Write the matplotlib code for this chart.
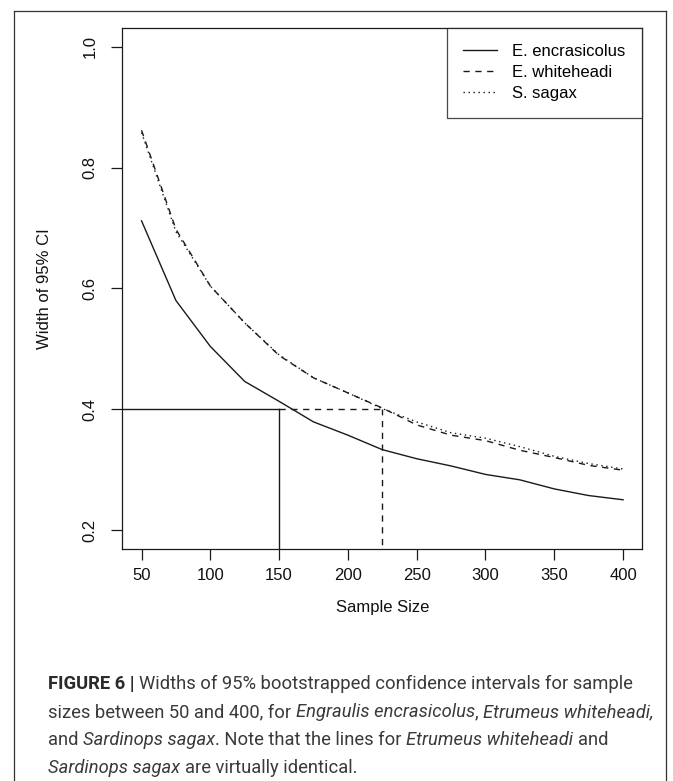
"""Widths of 95% bootstrapped CIs against sample size (Figure 6 recreation)."""

import matplotlib

matplotlib.use("Agg")
import matplotlib.pyplot as plt
from matplotlib.lines import Line2D


sample_size = [50, 75, 100, 125, 150, 175, 200, 225, 250, 275, 300, 325, 350, 375, 400]
width_encrasicolus = [0.712, 0.580, 0.504, 0.446, 0.413, 0.379, 0.357, 0.333,
                      0.318, 0.306, 0.292, 0.283, 0.268, 0.257, 0.250]
width_whiteheadi = [0.862, 0.698, 0.604, 0.543, 0.489, 0.452, 0.427, 0.402,
                    0.374, 0.357, 0.348, 0.332, 0.320, 0.307, 0.299]
width_sagax = [0.858, 0.694, 0.604, 0.543, 0.490, 0.452, 0.427, 0.401,
               0.379, 0.361, 0.352, 0.338, 0.322, 0.310, 0.301]
species = ["E. encrasicolus", "E. whiteheadi", "S. sagax"]
target_width = 0.4
n_encrasicolus = 150
n_whiteheadi = 225
x_ticks = [50, 100, 150, 200, 250, 300, 350, 400]
y_ticks = [0.2, 0.4, 0.6, 0.8, 1.0]
caption_lines = [
    [("FIGURE 6 |", "bold"), (" Widths of 95% bootstrapped confidence intervals for sample", "normal")],
    [("sizes between 50 and 400, for ", "normal"), ("Engraulis encrasicolus", "italic"),
     (", ", "normal"), ("Etrumeus whiteheadi,", "italic")],
    [("and ", "normal"), ("Sardinops sagax", "italic"), (". Note that the lines for ", "normal"),
     ("Etrumeus whiteheadi", "italic"), (" and", "normal")],
    [("Sardinops sagax", "italic"), (" are virtually identical.", "normal")],
]

INK = "#1a1a1a"
DASHED = (0, (4.5, 4))
DOTTED = (0, (1, 2.6))
PLOT_FONT = "Liberation Sans"
CAPTION_FONT = "Roboto"
CAPTION_SIZE = 13.2

plt.rcParams["font.family"] = [PLOT_FONT, "DejaVu Sans"]
plt.rcParams["font.size"] = 12


def draw_caption(fig, lines, x0, y_tops, line_height):
    renderer = fig.canvas.get_renderer()
    probe = fig.text(0, 0, "x x", fontsize=CAPTION_SIZE, family=CAPTION_FONT)
    two = fig.text(0, 0, "xx", fontsize=CAPTION_SIZE, family=CAPTION_FONT)
    space = probe.get_window_extent(renderer).width - two.get_window_extent(renderer).width
    probe.remove()
    two.remove()
    fig_w, fig_h = fig.bbox.width, fig.bbox.height
    for row, segments in enumerate(lines):
        x = x0
        y = fig_h - (y_tops + row * line_height)
        for text, style in segments:
            lead = len(text) - len(text.lstrip(" "))
            trail = len(text) - len(text.rstrip(" "))
            x += lead * space
            body = text.strip(" ")
            artist = fig.text(
                x / fig_w, y / fig_h, body, fontsize=CAPTION_SIZE, family=CAPTION_FONT,
                fontweight="bold" if style == "bold" else "normal",
                fontstyle="italic" if style == "italic" else "normal",
                color="#2b2b2b" if style == "bold" else "#3a3a3a", va="baseline", ha="left",
            )
            x = artist.get_window_extent(renderer).x1 + trail * space


def main():
    fig = plt.figure(figsize=(6.73, 7.81), dpi=100)
    ax = fig.add_axes([0.1817, 0.2967, 0.7727, 0.6679])

    ax.plot(sample_size, width_encrasicolus, color=INK, lw=1.0, linestyle="-", label=species[0])
    ax.plot(sample_size, width_whiteheadi, color=INK, lw=1.0, linestyle=DASHED, label=species[1])
    ax.plot(sample_size, width_sagax, color=INK, lw=1.0, linestyle=DOTTED, label=species[2])

    # reference lines: sample size needed for a CI width of 0.4
    ax.plot([36, n_encrasicolus], [target_width, target_width], color=INK, lw=1.0)
    ax.plot([n_encrasicolus, n_encrasicolus], [0.0, target_width], color=INK, lw=1.0)
    ax.plot([n_encrasicolus, n_whiteheadi], [target_width, target_width], color=INK, lw=1.0, linestyle=DASHED)
    ax.plot([n_whiteheadi, n_whiteheadi], [0.0, target_width], color=INK, lw=1.0, linestyle=DASHED)

    ax.set_xlim(36, 414)
    ax.set_ylim(0.168, 1.032)
    ax.set_xticks(x_ticks, [str(v) for v in x_ticks])
    ax.set_yticks(y_ticks, [f"{v:.1f}" for v in y_ticks], rotation=90, va="center")
    ax.tick_params(axis="both", length=7.7, width=0.9, color=INK, labelsize=12, labelcolor="#111111")
    ax.tick_params(axis="x", pad=5.5)
    ax.tick_params(axis="y", pad=10)
    for spine in ax.spines.values():
        spine.set_linewidth(0.9)
        spine.set_color(INK)

    ax.set_xlabel("Sample Size", fontsize=12, color="#111111")
    ax.xaxis.set_label_coords(0.5, -0.112)
    ax.xaxis.label.set_va("center")
    ax.set_ylabel("Width of 95% CI", fontsize=12, color="#111111")
    ax.yaxis.set_label_coords(-0.150, 0.5)
    ax.yaxis.label.set_va("center")

    legend = ax.legend(
        loc="upper right", borderaxespad=0, fancybox=False, frameon=True, fontsize=12,
        handlelength=2.0, handletextpad=0.95, labelspacing=0.36, borderpad=1.0,
    )
    legend.get_frame().set_edgecolor(INK)
    legend.get_frame().set_linewidth(0.9)

    # page frame around the figure panel (open at the bottom)
    frame = dict(color="#333333", lw=0.9, transform=fig.transFigure)
    fig.add_artist(Line2D([14 / 673, 666 / 673], [1 - 10.7 / 781, 1 - 10.7 / 781], **frame))
    fig.add_artist(Line2D([14 / 673, 14 / 673], [0, 1 - 10.7 / 781], **frame))
    fig.add_artist(Line2D([666 / 673, 666 / 673], [0, 1 - 10.7 / 781], **frame))

    draw_caption(fig, caption_lines, 48, 689, 28)

    fig.savefig("out.png", dpi=100)
    plt.close(fig)


if __name__ == "__main__":
    main()
